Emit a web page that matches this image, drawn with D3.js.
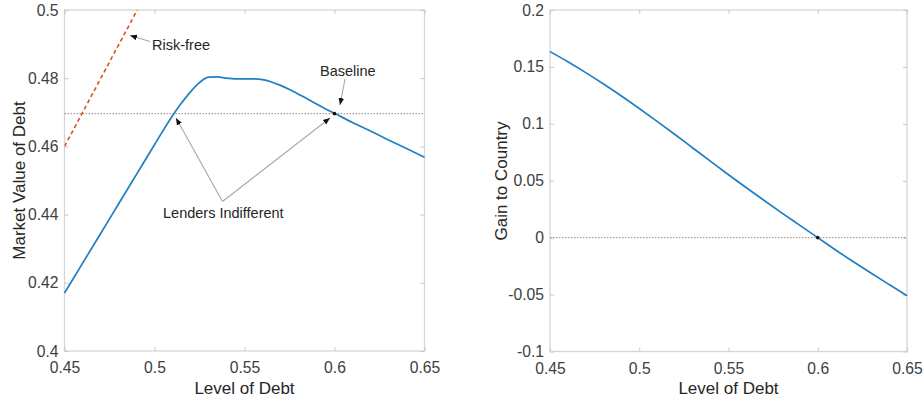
<!DOCTYPE html>
<html><head><meta charset="utf-8">
<script src="https://cdn.jsdelivr.net/npm/d3@7"></script>
<style>
body{margin:0;background:#fff;}
text{font-family:"Liberation Sans",Arial,Helvetica,sans-serif;}
</style></head>
<body><svg id="c" width="924" height="402"></svg>
<script>
// ---- data ----
const debtLevels = [0.45,0.46,0.47,0.48,0.49,0.50,0.51,0.515,0.52,0.525,0.53,0.535,0.54,0.545,0.55,0.555,0.56,0.565,0.57,0.575,0.58,0.585,0.59,0.595,0.60,0.61,0.62,0.63,0.64,0.65];
const marketValue = [0.417,0.4257,0.4344,0.4431,0.4518,0.4605,0.4690,0.4727,0.4760,0.4787,0.4803,0.4804,0.4800,0.4798,0.4798,0.4798,0.4796,0.4789,0.4779,0.4767,0.4753,0.4739,0.4724,0.4710,0.4697,0.4670,0.4645,0.4619,0.4594,0.4568];
const riskFreeX = [0.45, 0.4904];
const riskFreeY = [0.460, 0.500];
const baselineValue = 0.4696;
const gainX = [0.45,0.46,0.47,0.48,0.49,0.50,0.51,0.52,0.53,0.54,0.55,0.56,0.57,0.58,0.59,0.60,0.61,0.62,0.63,0.64,0.65];
const gainY = [0.1635,0.1545,0.1450,0.1350,0.1245,0.1135,0.1022,0.0906,0.0788,0.0670,0.0553,0.0438,0.0326,0.0216,0.0108,0.0,-0.0108,-0.0212,-0.0313,-0.0412,-0.0510];
const xTicks = [0.45,0.5,0.55,0.6,0.65];
const yTicksLeft = [0.4,0.42,0.44,0.46,0.48,0.5];
const yTicksRight = [-0.1,-0.05,0,0.05,0.1,0.15,0.2];
const baselineDebt = 0.60;

const svg = d3.select("#c");
const defs = svg.append("defs");
defs.append("marker").attr("id","ah").attr("viewBox","0 0 10 10").attr("refX",10).attr("refY",5)
  .attr("markerWidth",7).attr("markerHeight",7).attr("orient","auto-start-reverse").attr("markerUnits","userSpaceOnUse")
  .append("path").attr("d","M0,1 L10,5 L0,9 Z").attr("fill","#111");

const tickCol = "#404040";
const tickFont = 15.7;
function panel(x0,x1,y0,y1,ydom,yticks,fmtY){
  const g = svg.append("g");
  const x = d3.scaleLinear().domain([0.45,0.65]).range([x0,x1]);
  const y = d3.scaleLinear().domain(ydom).range([y1,y0]);
  g.append("rect").attr("x",x0).attr("y",y0).attr("width",x1-x0).attr("height",y1-y0)
    .attr("fill","none").attr("stroke","#d6d6d6").attr("stroke-width",1.3);
  const ax = g.append("g").attr("transform",`translate(0,${y1})`)
    .call(d3.axisBottom(x).tickValues(xTicks).tickSize(-4).tickPadding(11).tickFormat(d=>String(+d.toFixed(2))));
  const axT = g.append("g").attr("transform",`translate(0,${y0})`)
    .call(d3.axisTop(x).tickValues(xTicks).tickSize(-4).tickFormat(""));
  const ay = g.append("g").attr("transform",`translate(${x0},0)`)
    .call(d3.axisLeft(y).tickValues(yticks).tickSize(-4).tickPadding(6).tickFormat(fmtY));
  const ayR = g.append("g").attr("transform",`translate(${x1},0)`)
    .call(d3.axisRight(y).tickValues(yticks).tickSize(-4).tickFormat(""));
  [ax,axT,ay,ayR].forEach(a=>{
    a.select(".domain").remove();
    a.selectAll(".tick line").attr("stroke","#c8c8c8").attr("stroke-width",1);
    a.selectAll(".tick text").attr("fill",tickCol).attr("font-size",tickFont);
  });
  return {g,x,y};
}

// ---- left panel ----
const L = panel(64.5,424.5,10,351,[0.4,0.5],yTicksLeft,d=>String(+d.toFixed(2)));
defs.append("clipPath").attr("id","clipL").append("rect")
  .attr("x",64.5).attr("y",10).attr("width",360).attr("height",341);
L.g.append("line").attr("x1",L.x(0.45)).attr("x2",L.x(0.65)).attr("y1",L.y(baselineValue)).attr("y2",L.y(baselineValue))
  .attr("stroke","#8a8a8a").attr("stroke-width",1).attr("stroke-dasharray","1.5,1.5");
L.g.append("path").datum(riskFreeX.map((d,i)=>[d,riskFreeY[i]]))
  .attr("clip-path","url(#clipL)")
  .attr("d",d3.line().x(d=>L.x(d[0])).y(d=>L.y(d[1])))
  .attr("fill","none").attr("stroke","#D95319").attr("stroke-width",1.6).attr("stroke-dasharray","4,3");
L.g.append("path").datum(debtLevels.map((d,i)=>[d,marketValue[i]]))
  .attr("d",d3.line().curve(d3.curveMonotoneX).x(d=>L.x(d[0])).y(d=>L.y(d[1])))
  .attr("fill","none").attr("stroke","#1f7fc4").attr("stroke-width",1.7);
L.g.append("circle").attr("cx",L.x(baselineDebt)).attr("cy",L.y(baselineValue)).attr("r",1.8).attr("fill","#111");

function arrow(x1,y1,x2,y2){
  svg.append("line").attr("x1",x1).attr("y1",y1).attr("x2",x2).attr("y2",y2)
    .attr("stroke","#a8a8a8").attr("stroke-width",1.1).attr("marker-end","url(#ah)");
}
const annCol = "#262626";
const annFont = 14.5;
svg.append("text").attr("x",152).attr("y",50).attr("font-size",annFont).attr("fill",annCol).text("Risk-free");
arrow(150,41.5,130,35.5);
svg.append("text").attr("x",320).attr("y",75.5).attr("font-size",annFont).attr("fill",annCol).text("Baseline");
arrow(345,79,340,105);
svg.append("text").attr("x",163).attr("y",218).attr("font-size",annFont).attr("fill",annCol).text("Lenders Indifferent");
arrow(222.5,201.5,176,118);
arrow(222.5,201.5,330,118);

svg.append("text").attr("transform","translate(25,180.5) rotate(-90)").attr("text-anchor","middle")
  .attr("font-size",17).attr("fill",annCol).text("Market Value of Debt");
svg.append("text").attr("x",244.5).attr("y",393.5).attr("text-anchor","middle")
  .attr("font-size",17).attr("fill",annCol).text("Level of Debt");

// ---- right panel ----
const R = panel(550,907,10,351.5,[-0.1,0.2],yTicksRight,d=>d===0?"0":String(+d.toFixed(2)));
R.g.append("line").attr("x1",R.x(0.45)).attr("x2",R.x(0.65)).attr("y1",R.y(0)).attr("y2",R.y(0))
  .attr("stroke","#8a8a8a").attr("stroke-width",1).attr("stroke-dasharray","1.5,1.5");
R.g.append("path").datum(gainX.map((d,i)=>[d,gainY[i]]))
  .attr("d",d3.line().curve(d3.curveMonotoneX).x(d=>R.x(d[0])).y(d=>R.y(d[1])))
  .attr("fill","none").attr("stroke","#1f7fc4").attr("stroke-width",1.7);
R.g.append("circle").attr("cx",R.x(baselineDebt)).attr("cy",R.y(0)).attr("r",1.8).attr("fill","#111");
svg.append("text").attr("transform","translate(507,181) rotate(-90)").attr("text-anchor","middle")
  .attr("font-size",17).attr("fill",annCol).text("Gain to Country");
svg.append("text").attr("x",728.5).attr("y",393.5).attr("text-anchor","middle")
  .attr("font-size",17).attr("fill",annCol).text("Level of Debt");
</script></body></html>
